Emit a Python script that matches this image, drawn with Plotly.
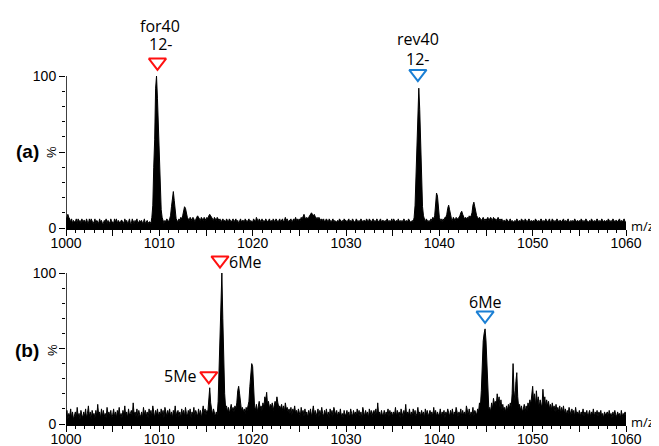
import numpy as np
import plotly.graph_objects as go

# m/z sampling: 1000.0 .. 1060.0 in 0.1 steps (one row = 1 m/z unit, 10 samples)
mz_start = 1000.0
mz_step = 0.1

# Panel (a) relative intensity (%)
spec_a_rows = [
    [5,8,9,7,6,4,6,3,5,4],        # 1000
    [4,6,3,6,4,5,3,6,4,5],        # 1001
    [5,3,6,4,3,6,4,6,4,3],        # 1002
    [4,6,3,5,4,3,6,4,5,3],        # 1003
    [3,5,4,6,3,5,4,3,6,4],        # 1004
    [4,3,6,4,6,3,5,4,3,5],        # 1005
    [5,4,3,6,4,5,3,4,6,3],        # 1006
    [3,6,4,3,5,4,6,3,4,5],        # 1007
    [4,5,3,4,6,3,4,5,3,4],        # 1008
    [4,3,7,15,40,58,92,100,85,68],# 1009
    [45,22,12,7,5,3,5,4,6,5],     # 1010
    [4,6,8,14,20,24,18,10,6,5],   # 1011
    [4,6,5,7,6,8,11,14,13,8],     # 1012
    [7,6,5,7,6,5,7,6,4,6],        # 1013
    [7,8,7,6,5,7,6,5,7,6],        # 1014
    [5,7,6,8,9,8,7,6,5,7],        # 1015
    [6,5,7,6,5,6,4,5,6,5],        # 1016
    [5,4,6,5,4,6,5,4,5,6],        # 1017
    [4,5,6,4,5,3,5,6,4,5],        # 1018
    [5,4,6,5,4,5,6,4,5,4],        # 1019
    [4,6,5,4,7,5,4,6,5,4],        # 1020
    [6,4,5,4,6,5,4,5,6,4],        # 1021
    [5,4,6,5,4,6,5,4,5,6],        # 1022
    [4,5,6,4,5,7,5,6,4,5],        # 1023
    [5,6,4,5,6,5,7,5,6,5],        # 1024
    [6,5,7,6,8,9,7,6,7,6],        # 1025
    [7,8,9,10,9,8,9,7,6,7],       # 1026
    [6,7,6,5,6,5,6,4,5,6],        # 1027
    [5,4,6,5,4,5,6,4,5,4],        # 1028
    [4,5,4,6,5,4,5,4,6,5],        # 1029
    [5,4,5,6,4,5,4,6,5,4],        # 1030
    [4,6,5,4,5,4,6,5,4,5],        # 1031
    [5,4,6,5,4,6,5,4,5,6],        # 1032
    [4,5,4,6,5,4,5,6,4,5],        # 1033
    [5,4,5,4,6,5,4,5,4,6],        # 1034
    [4,6,5,4,5,4,6,4,5,4],        # 1035
    [5,4,6,5,4,5,4,6,5,4],        # 1036
    [4,5,4,7,15,35,60,85,92,78],  # 1037
    [55,30,14,8,5,4,6,5,4,5],     # 1038
    [4,6,5,7,6,8,17,23,21,12],    # 1039
    [7,5,6,4,6,5,7,7,9,13],       # 1040
    [15,12,7,6,5,7,6,5,7,6],      # 1041
    [6,7,8,10,11,9,7,6,7,6],      # 1042
    [7,6,8,7,8,10,15,17,14,9],    # 1043
    [8,7,6,7,6,5,6,7,5,6],        # 1044
    [5,6,7,5,6,7,6,5,7,6],        # 1045
    [6,5,6,7,5,6,5,6,4,5],        # 1046
    [5,4,6,5,4,5,6,4,5,4],        # 1047
    [4,5,4,6,5,4,5,4,6,5],        # 1048
    [5,4,6,5,4,5,6,5,4,5],        # 1049
    [4,5,4,6,5,4,5,4,5,6],        # 1050
    [5,4,5,4,6,5,4,5,6,4],        # 1051
    [4,6,5,4,5,4,6,5,4,5],        # 1052
    [5,4,5,6,4,5,4,5,6,4],        # 1053
    [4,5,4,5,4,6,5,4,5,4],        # 1054
    [5,4,6,5,4,5,4,6,5,4],        # 1055
    [4,5,4,6,5,4,5,4,5,6],        # 1056
    [5,4,5,4,6,5,4,5,4,5],        # 1057
    [4,6,5,4,5,4,6,5,4,5],        # 1058
    [5,4,5,6,4,5,4,5,6,4],        # 1059
    [4],                          # 1060
]

# Panel (b) relative intensity (%)
spec_b_rows = [
    [4,9,3,7,5,10,4,8,3,6],       # 1000
    [8,4,11,5,7,3,9,6,4,8],       # 1001
    [5,10,4,7,12,5,8,3,9,6],      # 1002
    [7,4,9,5,13,6,8,4,10,5],      # 1003
    [9,5,7,4,11,6,8,5,9,4],       # 1004
    [6,10,5,8,4,9,6,11,5,7],      # 1005
    [4,9,6,12,5,8,4,10,6,7],      # 1006
    [9,5,14,6,8,5,10,4,9,6],      # 1007
    [5,8,4,11,6,9,5,8,4,10],      # 1008
    [6,9,5,12,7,4,9,6,10,5],      # 1009
    [8,5,10,6,9,4,11,7,5,9],      # 1010
    [6,10,5,8,4,9,6,12,5,8],      # 1011
    [9,5,8,4,10,6,9,5,11,7],      # 1012
    [5,9,6,10,4,8,6,11,5,9],      # 1013
    [7,5,10,6,9,4,8,12,7,10],     # 1014
    [6,9,8,18,24,14,8,6,10,7],    # 1015
    [5,8,6,15,40,62,85,100,70,40],# 1016
    [20,11,12,8,11,7,10,13,9,11], # 1017
    [8,12,10,14,22,25,20,12,9,11],# 1018
    [8,10,7,11,9,12,15,25,36,40], # 1019
    [38,22,12,9,13,8,11,15,10,12],# 1020
    [9,14,11,18,16,21,12,15,10,13],# 1021
    [11,14,9,12,15,13,18,14,11,12],# 1022
    [10,13,9,12,8,14,10,11,8,10], # 1023
    [7,11,6,10,8,12,7,9,6,10],    # 1024
    [8,5,11,7,9,5,10,6,8,4],      # 1025
    [9,6,10,5,8,12,6,9,5,8],      # 1026
    [10,5,9,6,11,7,5,9,6,10],     # 1027
    [5,8,4,10,6,9,5,11,7,6],      # 1028
    [9,5,8,6,10,5,7,4,9,6],       # 1029
    [6,9,5,8,4,10,7,5,9,6],       # 1030
    [8,5,10,6,9,5,8,4,11,6],      # 1031
    [5,9,6,8,4,10,6,9,5,8],       # 1032
    [9,6,10,5,14,6,8,5,9,6],      # 1033
    [6,9,5,8,6,10,5,9,6,8],       # 1034
    [5,8,6,11,5,9,6,8,4,10],      # 1035
    [7,5,9,6,13,5,8,6,10,5],      # 1036
    [8,5,10,6,9,5,7,11,6,8],      # 1037
    [5,9,6,8,4,10,6,9,5,8],       # 1038
    [9,6,8,5,11,6,9,5,8,6],       # 1039
    [6,10,5,8,6,9,4,8,6,10],      # 1040
    [8,5,9,6,10,5,8,6,11,7],      # 1041
    [5,8,6,10,5,9,6,8,5,12],      # 1042
    [9,6,10,5,8,6,11,5,9,7],      # 1043
    [6,10,8,14,12,22,40,55,60,63],# 1044
    [55,35,18,10,11,8,14,10,17,13],# 1045
    [15,12,20,14,18,11,16,10,13,9],# 1046
    [11,8,12,9,13,10,14,11,20,40],# 1047
    [22,15,28,34,18,11,13,9,12,8],# 1048
    [10,13,8,12,9,14,11,16,13,18],# 1049
    [25,15,20,12,22,14,18,11,16,13],# 1050
    [12,23,14,18,11,16,12,15,10,13],# 1051
    [9,14,10,12,8,13,9,11,8,12],  # 1052
    [7,11,8,12,7,10,6,9,7,11],    # 1053
    [8,6,10,7,9,5,11,7,8,6],      # 1054
    [9,5,8,6,10,5,8,6,9,5],       # 1055
    [7,9,5,8,6,10,5,8,6,9],       # 1056
    [5,8,6,9,5,7,4,8,6,7],        # 1057
    [8,5,9,6,7,4,8,5,9,6],        # 1058
    [5,8,6,7,4,9,5,7,6,8],        # 1059
    [6],                          # 1060
]

# Peak markers (m/z, marker height in %, colour) and their labels
markers_a = {"mz": [1009.8, 1037.7], "y": [109, 101.5], "color": ["#ff1010", "#1a7fd4"]}
labels_a = {"mz": [1010.1, 1037.7, 1010.1, 1037.7],
            "y": [133.2, 124.3, 121.0, 111.0],
            "text": ["for40", "rev40", "12-", "12-"]}
markers_b = {"mz": [1016.5, 1015.3, 1044.9], "y": [108.5, 31.8, 72], "color": ["#ff1010", "#ff1010", "#1a7fd4"]}

x_ticks = [1000, 1005, 1010, 1015, 1020, 1025, 1030, 1035, 1040, 1045, 1050, 1055, 1060]
x_ticktext = ["1000", "", "1010", "", "1020", "", "1030", "", "1040", "", "1050", "", "1060"]
y_ticks = [0, 50, 100]
y_ticktext = ["0", "", "100"]
y_minor = [10, 20, 30, 40, 60, 70, 80, 90]

spec_a = [v for row in spec_a_rows for v in row]
spec_b = [v for row in spec_b_rows for v in row]
mz = np.round(mz_start + mz_step * np.arange(len(spec_a)), 1)

# The page body adds an 8 px margin; the figure is sized so that it fills the window.
OFF = 8
W, H = 659 - OFF, 446 - OFF
x_dom = [(66 - OFF) / W, (626 - OFF) / W]
# y=0 at window pixel 228 (top) / 424 (bottom); 1.52 / 1.51 px per %
ya_range = [0, 140]
ya_dom = [(H - (228 - OFF)) / H, (H - (228 - OFF) + 140 * 1.52) / H]
yb_range = [0, 115]
yb_dom = [(H - (424 - OFF)) / H, (H - (424 - OFF) + 115 * 1.51) / H]

fig = go.Figure()
for yv, xa, ya in [(spec_a, "x", "y"), (spec_b, "x2", "y2")]:
    fig.add_trace(go.Scatter(x=mz, y=yv, xaxis=xa, yaxis=ya, mode="lines",
                             line=dict(color="black", width=1),
                             fill="tozeroy", fillcolor="black",
                             showlegend=False, hoverinfo="skip"))

marker_style = dict(symbol="triangle-down-open", size=15, line=dict(width=2))
fig.add_trace(go.Scatter(x=markers_a["mz"], y=markers_a["y"], xaxis="x", yaxis="y",
                         mode="markers", cliponaxis=False, showlegend=False,
                         marker=dict(color=markers_a["color"], **marker_style)))
fig.add_trace(go.Scatter(x=markers_b["mz"], y=markers_b["y"], xaxis="x2", yaxis="y2",
                         mode="markers", cliponaxis=False, showlegend=False,
                         marker=dict(color=markers_b["color"], **marker_style)))

tick_font = dict(family="Liberation Sans, Arial", size=14, color="black")
ann_font = dict(family="Open Sans", size=16, color="black")

def xaxis_cfg(anchor):
    return dict(domain=x_dom, anchor=anchor, range=[1000, 1060], automargin=False,
                tickmode="array", tickvals=x_ticks, ticktext=x_ticktext,
                ticks="outside", ticklen=6, tickwidth=1.3, tickcolor="black",
                ticklabelstandoff=-5,
                showline=True, linecolor="black", linewidth=1.5,
                showgrid=False, zeroline=False, tickfont=tick_font,
                minor=dict(tickmode="linear", tick0=1000, dtick=1, ticks="outside",
                           ticklen=3, tickwidth=1, tickcolor="black", showgrid=False))

def yaxis_cfg(anchor, dom, rng):
    return dict(domain=dom, anchor=anchor, range=rng, automargin=False,
                tickmode="array", tickvals=y_ticks, ticktext=y_ticktext,
                ticks="outside", ticklen=6, tickwidth=1.3, tickcolor="black",
                showline=False, showgrid=False, zeroline=False, tickfont=tick_font,
                minor=dict(tickmode="array", tickvals=y_minor, ticks="outside",
                           ticklen=3, tickwidth=1, tickcolor="black", showgrid=False))

shapes = [
    dict(type="line", xref="x", yref="y", x0=1000, x1=1000, y0=0, y1=100,
         line=dict(color="black", width=1.5)),
    dict(type="line", xref="x2", yref="y2", x0=1000, x1=1000, y0=0, y1=100,
         line=dict(color="black", width=1.5)),
]

annotations = []
for m, yy, t in zip(labels_a["mz"], labels_a["y"], labels_a["text"]):
    annotations.append(dict(x=m, y=yy, xref="x", yref="y", text=t, showarrow=False,
                            font=ann_font, xanchor="center", yanchor="middle"))
annotations += [
    dict(x=1017.3, y=107, xref="x2", yref="y2", text="6Me", showarrow=False,
         font=ann_font, xanchor="left", yanchor="middle"),
    dict(x=1014.2, y=31.5, xref="x2", yref="y2", text="5Me", showarrow=False,
         font=ann_font, xanchor="right", yanchor="middle"),
    dict(x=1044.9, y=80.5, xref="x2", yref="y2", text="6Me", showarrow=False,
         font=ann_font, xanchor="center", yanchor="middle"),
]
for ya, lab, yl in [("y", "(a)", 50), ("y2", "(b)", 49)]:
    annotations.append(dict(x=(27 - OFF) / W, y=yl, xref="paper", yref=ya, text=f"<b>{lab}</b>",
                            showarrow=False, font=dict(family="Liberation Sans, Arial", size=19, color="black"),
                            xanchor="center", yanchor="middle"))
    annotations.append(dict(x=(52 - OFF) / W, y=yl, xref="paper", yref=ya, text="%", textangle=-90,
                            showarrow=False, font=dict(family="Liberation Sans, Arial", size=13, color="black"),
                            xanchor="center", yanchor="middle"))
    annotations.append(dict(x=1060, y=1.5, xref="x" if ya == "y" else "x2", yref=ya, text="m/z",
                            showarrow=False, font=dict(family="Open Sans", size=13, color="black"),
                            xanchor="left", yanchor="middle", xshift=3))

fig.update_layout(
    width=W, height=H, margin=dict(l=0, r=0, t=0, b=0),
    paper_bgcolor="white", plot_bgcolor="white",
    xaxis=xaxis_cfg("y"), yaxis=yaxis_cfg("x", ya_dom, ya_range),
    xaxis2=xaxis_cfg("y2"), yaxis2=yaxis_cfg("x2", yb_dom, yb_range),
    annotations=annotations, shapes=shapes, showlegend=False,
)

# hide the page scrollbars (the body's default margin makes the page overflow)
fig.write_html("out.html",
               post_script="document.documentElement.style.overflow='hidden';"
                           "document.body.style.overflow='hidden';")
